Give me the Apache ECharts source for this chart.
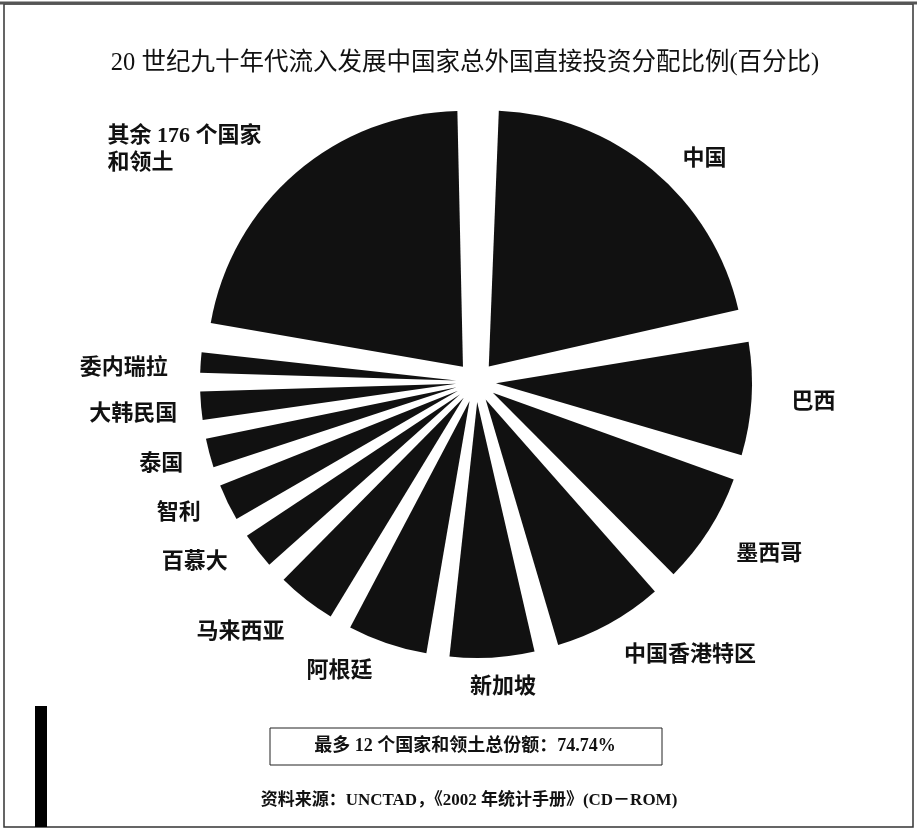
<!DOCTYPE html>
<html>
<head>
<meta charset="utf-8">
<script src="https://cdn.jsdelivr.net/npm/echarts@6/dist/echarts.min.js"></script>
<style>
  html, body { margin: 0; padding: 0; background: #fff; }
  #chart { width: 917px; height: 831px; }
</style>
</head>
<body>
<div id="chart"></div>
<script>
// ---- data (percent shares; clockwise from 12 o'clock) ----
const categories = ['中国', '巴西', '墨西哥', '中国香港特区', '新加坡', '阿根廷', '马来西亚',
                    '百慕大', '智利', '泰国', '大韩民国', '委内瑞拉', '其余 176 个国家\n和领土'];
const shares = [21.8, 8.1, 8.0, 7.9, 6.3, 6.0, 4.7, 3.25, 3.3, 2.8, 2.75, 2.25, 22.9];
const halftone = [false, false, true, true, false, true, false, false, false, true, false, false, true];
const titleText = '20 世纪九十年代流入发展中国家总外国直接投资分配比例(百分比)';
const boxText = '最多 12 个国家和领土总份额：74.74%';
const sourceText = '资料来源：UNCTAD，《2002 年统计手册》(CD－ROM)';

// ---- label fine-tuning (layout only, in pixels) ----
const labelNudge = [[11, 13], [10, 2], [2, 8], [0, 5], [-24, 0], [-5, 0], [-3, 9],
                    [-6, -7], [0, -2], [3, 3], [6, 6], [-3, 8], [-169, 0]];

const FONT = '"Liberation Serif", "Noto Sans CJK SC", serif';

const chart = echarts.init(document.getElementById('chart'), null, { renderer: 'canvas' });

const pieData = categories.map((name, i) => ({
  name: name,
  value: shares[i],
  selected: true,
  itemStyle: { color: halftone[i] ? '#161616' : '#000000' }
}));

chart.setOption({
  animation: false,
  backgroundColor: '#ffffff',
  title: {
    text: titleText,
    left: 460,
    top: 46,
    textAlign: 'center',
    textStyle: { fontFamily: FONT, fontSize: 24.5, fontWeight: 'normal', color: '#111' }
  },
  graphic: [
    { type: 'rect', shape: { x: 4, y: 4, width: 909, height: 823 },
      style: { fill: 'none', stroke: '#333', lineWidth: 1.5 }, silent: true },
    { type: 'line', shape: { x1: 0, y1: 3, x2: 917, y2: 3 },
      style: { stroke: '#555', lineWidth: 3 }, silent: true },
    { type: 'rect', shape: { x: 35, y: 706, width: 12, height: 121 },
      style: { fill: '#000' }, silent: true },
    { type: 'rect', shape: { x: 270, y: 728, width: 392, height: 37 },
      style: { fill: 'none', stroke: '#222', lineWidth: 1 }, silent: true },
    { type: 'text', x: 465, y: 746,
      style: { text: boxText, fontFamily: FONT, fontSize: 18, fontWeight: 'bold', fill: '#111',
               align: 'center', verticalAlign: 'middle' }, silent: true },
    { type: 'text', x: 469, y: 801,
      style: { text: sourceText, fontFamily: FONT, fontSize: 17, fontWeight: 'bold', fill: '#111',
               align: 'center', verticalAlign: 'middle' }, silent: true }
  ],
  series: [{
    type: 'pie',
    center: [476, 382],
    radius: [0, 256],
    startAngle: 89.5,
    clockwise: true,
    padAngle: 3.5,
    selectedMode: 'multiple',
    selectedOffset: 20,
    avoidLabelOverlap: false,
    itemStyle: { borderWidth: 0 },
    label: {
      show: true,
      position: 'outside',
      alignTo: 'none',
      fontFamily: FONT,
      fontSize: 22,
      fontWeight: 'bold',
      color: '#111',
      lineHeight: 27,
      distanceToLabelLine: 0
    },
    labelLine: { show: false, length: 30, length2: 0 },
    labelLayout: function (params) {
      const n = labelNudge[params.dataIndex] || [0, 0];
      const res = { dx: n[0], dy: n[1] };
      if (params.dataIndex === categories.length - 1) { res.align = 'left'; }
      return res;
    },
    emphasis: { disabled: true },
    select: { itemStyle: { color: 'inherit' } },
    data: pieData
  }]
});
</script>
</body>
</html>
